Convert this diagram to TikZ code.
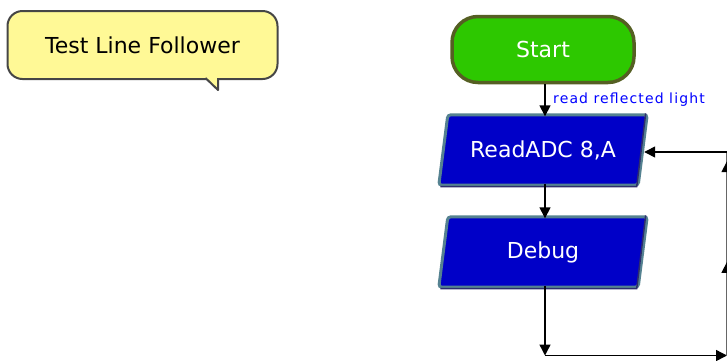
\documentclass[tikz,border=0pt]{standalone}
\usepackage{fontspec}
\setmainfont{DejaVu Sans}
\usetikzlibrary{arrows.meta,decorations.markings,calc}
\definecolor{callfill}{RGB}{255,249,150}
\definecolor{callline}{RGB}{70,70,70}
\definecolor{startfill}{RGB}{45,200,0}
\definecolor{startline}{RGB}{85,95,35}
\definecolor{procfill}{RGB}{0,0,200}
\definecolor{procline}{RGB}{85,130,145}
\definecolor{procdark}{RGB}{45,45,110}
\definecolor{labelblue}{RGB}{0,0,255}
\begin{document}
\begin{tikzpicture}[x=1pt,y=-1pt,
  flowline/.style={line width=1.4pt,black},
  tip/.style={-{Triangle[length=11pt,width=11pt]}},
  bigtext/.style={font=\fontsize{22}{24}\selectfont},
  procbox/.style={minimum width=199pt,minimum height=70pt,inner sep=0pt,text=white,bigtext},
  procshape/.style={draw=procline,fill=procfill,line width=3pt,rounded corners=3pt},
]
\useasboundingbox (0,0) rectangle (727,360);

% callout
\node[draw=callline,fill=callfill,line width=2pt,rounded corners=15pt,
      minimum width=270pt,minimum height=68pt,inner sep=0pt,bigtext] (note) at (142.5,45) {Test Line Follower};
\fill[callfill] (205,76.5) -- (218,90) -- (218,76.5) -- cycle;
\draw[callline,line width=2pt,line join=round] (205.5,78) -- (218,90) -- (218,78);

% start
\node[draw=startline,fill=startfill,line width=3.5pt,rounded corners=26pt,
      minimum width=182pt,minimum height=66pt,inner sep=0pt,text=white,bigtext] (start) at (543,49.5) {Start};

% ReadADC
\node[procbox] (read) at (543,150) {};
\path[procshape] ([xshift=-4.5pt]read.south west) -- ([xshift=4.5pt]read.north west)
   -- ([xshift=4.5pt]read.north east) -- ([xshift=-4.5pt]read.south east) -- cycle;
\draw[procdark,line width=1.5pt] ([xshift=-3pt,yshift=-1.5pt]read.south west) -- ([xshift=-6pt,yshift=-1.5pt]read.south east) -- ([xshift=3pt,yshift=1.5pt]read.north east);
\node[procbox] at (read) {ReadADC 8,A};

% Debug
\node[procbox] (debug) at (543,252) {};
\path[procshape] ([xshift=-4.5pt]debug.south west) -- ([xshift=4.5pt]debug.north west)
   -- ([xshift=4.5pt]debug.north east) -- ([xshift=-4.5pt]debug.south east) -- cycle;
\draw[procdark,line width=1.5pt] ([xshift=-3pt,yshift=-1.5pt]debug.south west) -- ([xshift=-6pt,yshift=-1.5pt]debug.south east) -- ([xshift=3pt,yshift=1.5pt]debug.north east);
\node[procbox] at (debug) {Debug};

% connectors
\draw[flowline,tip] ([xshift=2pt]start.south) -- ([xshift=2pt,yshift=-1.5pt]read.north);
\node[anchor=west,text=labelblue,inner sep=0pt,
      font=\fontsize{14}{16}\selectfont\addfontfeature{LetterSpace=8}] (lbl) at (553,100) {read reflected light};
\draw[flowline,tip] ([xshift=2pt,yshift=1.5pt]read.south) -- ([xshift=2pt,yshift=-1.5pt]debug.north);

\coordinate (c1) at (545,355.5);
\coordinate (c2) at (727,355.5);
\coordinate (c3) at (727,152);
\draw[flowline,tip] ([xshift=2pt,yshift=1.5pt]debug.south) -- (c1);
\draw[flowline,tip] (c1) -- (c2);
\draw[flowline,black!60,line width=1.6pt,
  postaction={decorate,decoration={markings,
    mark=at position 0.46 with {\arrow[black]{Triangle[length=11pt,width=11pt]}},
    mark=at position 0.955 with {\arrow[black]{Triangle[length=11pt,width=11pt]}}}}] (c2) -- (c3);
\draw[flowline,tip] (c3) -- ([xshift=1.5pt,yshift=-2pt]read.east);
\end{tikzpicture}
\end{document}
